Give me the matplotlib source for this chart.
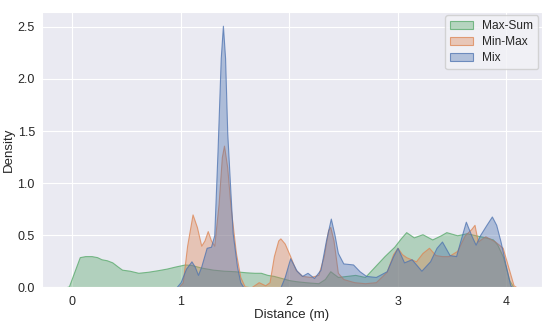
import numpy as np
import seaborn as sns
from matplotlib import pyplot as plt

# Density curves (distance in m, density)
maxsum_x = [-0.06, -0.03, 0.02, 0.07, 0.12, 0.18, 0.23, 0.27, 0.32, 0.37, 0.42, 0.46, 0.53, 0.61,
            0.7, 0.79, 0.87, 0.95, 1.04, 1.1, 1.19, 1.3, 1.4, 1.5, 1.6, 1.68, 1.74, 1.8, 1.86,
            1.93, 2.0, 2.06, 2.15, 2.27, 2.33, 2.38, 2.45, 2.53, 2.61, 2.7, 2.79, 2.88, 2.97,
            3.03, 3.08, 3.15, 3.23, 3.32, 3.4, 3.45, 3.55, 3.64, 3.72, 3.81, 3.88, 3.92, 3.97,
            4.0, 4.03, 4.07]
maxsum_y = [0.0, 0.01, 0.15, 0.29, 0.30, 0.30, 0.29, 0.27, 0.26, 0.24, 0.2, 0.17, 0.16, 0.14,
            0.15, 0.165, 0.18, 0.2, 0.22, 0.215, 0.19, 0.17, 0.16, 0.155, 0.145, 0.14, 0.14,
            0.12, 0.11, 0.09, 0.07, 0.06, 0.05, 0.04, 0.08, 0.155, 0.1, 0.11, 0.12, 0.1, 0.2,
            0.3, 0.39, 0.47, 0.53, 0.48, 0.51, 0.46, 0.5, 0.53, 0.5, 0.52, 0.5, 0.48, 0.46,
            0.41, 0.3, 0.19, 0.07, 0.0]

minmax_x = [0.98, 1.02, 1.06, 1.11, 1.15, 1.19, 1.22, 1.25, 1.28, 1.31, 1.35, 1.38, 1.4, 1.43,
            1.46, 1.51, 1.55, 1.59, 1.65, 1.72, 1.78, 1.82, 1.86, 1.9, 1.92, 1.96, 2.01, 2.06,
            2.12, 2.2, 2.27, 2.32, 2.36, 2.38, 2.41, 2.45, 2.5, 2.6, 2.7, 2.8, 2.9, 2.96, 3.0,
            3.04, 3.08, 3.17, 3.23, 3.29, 3.35, 3.41, 3.47, 3.55, 3.62, 3.68, 3.71, 3.74, 3.78,
            3.81, 3.9, 3.97, 4.02, 4.07, 4.1]
minmax_y = [0.0, 0.05, 0.4, 0.7, 0.58, 0.4, 0.45, 0.54, 0.45, 0.4, 0.8, 1.25, 1.36, 1.15,
            0.78, 0.33, 0.1, 0.01, 0.0, 0.05, 0.02, 0.05, 0.3, 0.45, 0.47, 0.42, 0.3, 0.17,
            0.11, 0.1, 0.12, 0.3, 0.55, 0.58, 0.45, 0.14, 0.08, 0.05, 0.04, 0.05, 0.15, 0.32,
            0.38, 0.32, 0.29, 0.25, 0.33, 0.38, 0.31, 0.3, 0.3, 0.35, 0.5, 0.56, 0.6, 0.44,
            0.47, 0.49, 0.44, 0.38, 0.2, 0.02, 0.0]

mix_x = [0.96, 1.0, 1.05, 1.1, 1.13, 1.16, 1.19, 1.24, 1.28, 1.31, 1.34, 1.37, 1.39, 1.41,
         1.43, 1.46, 1.48, 1.52, 1.55, 1.58, 1.92, 1.96, 2.01, 2.07, 2.12, 2.17, 2.23, 2.29,
         2.34, 2.385, 2.42, 2.45, 2.5, 2.59, 2.65, 2.71, 2.8, 2.9, 2.96, 3.0, 3.06, 3.13,
         3.22, 3.3, 3.36, 3.41, 3.48, 3.54, 3.58, 3.63, 3.68, 3.72, 3.76, 3.82, 3.87, 3.91,
         3.95, 4.0, 4.04, 4.06]
mix_y = [0.0, 0.05, 0.18, 0.25, 0.2, 0.12, 0.2, 0.38, 0.39, 0.5, 1.3, 2.2, 2.51, 2.2,
         1.48, 0.9, 0.52, 0.2, 0.05, 0.0, 0.0, 0.1, 0.28, 0.16, 0.11, 0.14, 0.09, 0.17,
         0.45, 0.66, 0.5, 0.33, 0.23, 0.22, 0.155, 0.11, 0.1, 0.155, 0.3, 0.38, 0.24, 0.27,
         0.16, 0.25, 0.38, 0.44, 0.31, 0.3, 0.45, 0.63, 0.5, 0.41, 0.5, 0.6, 0.68, 0.6,
         0.44, 0.2, 0.02, 0.0]

labels = ['Max-Sum', 'Min-Max', 'Mix']

sns.set_style('darkgrid')
plt.rcParams['font.family'] = ['Liberation Sans', 'DejaVu Sans']
colors = sns.color_palette('deep')
series_colors = [colors[2], colors[1], colors[0]]

fig, ax = plt.subplots(figsize=(5.5, 3.24), dpi=100)

series = [(maxsum_x, maxsum_y), (minmax_x, minmax_y), (mix_x, mix_y)]
for (xs, ys), lab, c in zip(series, labels, series_colors):
    ax.fill_between(xs, ys, facecolor=(*c, 0.38), edgecolor=(*c, 0.75),
                    linewidth=0.8, label=lab)

ax.set_xlim(-0.28, 4.33)
ax.set_ylim(0, 2.645)
ax.set_xticks([0, 1, 2, 3, 4])
ax.set_yticks([0.0, 0.5, 1.0, 1.5, 2.0, 2.5])
ax.tick_params(labelsize=9, pad=2.5)
ax.tick_params(axis='y', pad=1.5)
ax.set_xlabel('Distance (m)', fontsize=9.5, labelpad=1)
ax.set_ylabel('Density', fontsize=9.5)
ax.yaxis.set_label_coords(-0.053, 0.5)
leg = ax.legend(loc='upper right', fontsize=8.6, handlelength=1.9,
                borderaxespad=0.3, labelspacing=0.35)
leg.get_frame().set_facecolor('#f2f2f6')

plt.subplots_adjust(left=0.076, right=0.985, top=0.964, bottom=0.113)
plt.savefig('out.png')
